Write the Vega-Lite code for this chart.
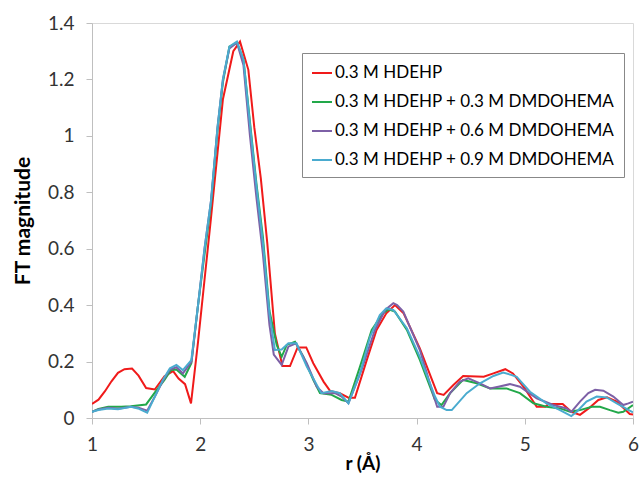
{
  "$schema": "https://vega.github.io/schema/vega-lite/v6.json",
  "width": 541,
  "height": 395,
  "autosize": "none",
  "padding": {"left": 92, "top": 23, "right": 6, "bottom": 63},
  "background": "white",
  "config": {
    "font": "Lato",
    "view": {"stroke": "#d9d9d9", "strokeWidth": 1},
    "axis": {
      "domainColor": "#bfbfbf",
      "tickColor": "#bfbfbf",
      "labelColor": "#333333",
      "titleColor": "#000000",
      "labelFont": "Lato",
      "titleFont": "Lato",
      "labelFontSize": 19,
      "titleFontSize": 21,
      "titleFontWeight": "bold",
      "grid": false
    }
  },
  "datasets": {
    "ft": [
      {"s": "0.3 M HDEHP", "r": 1.00, "v": 0.05},
      {"s": "0.3 M HDEHP", "r": 1.06, "v": 0.065},
      {"s": "0.3 M HDEHP", "r": 1.12, "v": 0.095},
      {"s": "0.3 M HDEHP", "r": 1.18, "v": 0.13},
      {"s": "0.3 M HDEHP", "r": 1.24, "v": 0.16},
      {"s": "0.3 M HDEHP", "r": 1.30, "v": 0.173},
      {"s": "0.3 M HDEHP", "r": 1.37, "v": 0.175},
      {"s": "0.3 M HDEHP", "r": 1.43, "v": 0.15},
      {"s": "0.3 M HDEHP", "r": 1.50, "v": 0.106},
      {"s": "0.3 M HDEHP", "r": 1.58, "v": 0.101},
      {"s": "0.3 M HDEHP", "r": 1.67, "v": 0.148},
      {"s": "0.3 M HDEHP", "r": 1.75, "v": 0.166},
      {"s": "0.3 M HDEHP", "r": 1.80, "v": 0.14},
      {"s": "0.3 M HDEHP", "r": 1.86, "v": 0.12},
      {"s": "0.3 M HDEHP", "r": 1.915, "v": 0.052},
      {"s": "0.3 M HDEHP", "r": 1.98, "v": 0.27},
      {"s": "0.3 M HDEHP", "r": 2.04, "v": 0.49},
      {"s": "0.3 M HDEHP", "r": 2.10, "v": 0.71},
      {"s": "0.3 M HDEHP", "r": 2.16, "v": 0.94},
      {"s": "0.3 M HDEHP", "r": 2.21, "v": 1.13},
      {"s": "0.3 M HDEHP", "r": 2.306, "v": 1.30},
      {"s": "0.3 M HDEHP", "r": 2.368, "v": 1.334},
      {"s": "0.3 M HDEHP", "r": 2.445, "v": 1.234},
      {"s": "0.3 M HDEHP", "r": 2.50, "v": 1.03},
      {"s": "0.3 M HDEHP", "r": 2.56, "v": 0.85},
      {"s": "0.3 M HDEHP", "r": 2.62, "v": 0.62},
      {"s": "0.3 M HDEHP", "r": 2.69, "v": 0.30},
      {"s": "0.3 M HDEHP", "r": 2.76, "v": 0.184},
      {"s": "0.3 M HDEHP", "r": 2.83, "v": 0.184},
      {"s": "0.3 M HDEHP", "r": 2.90, "v": 0.25},
      {"s": "0.3 M HDEHP", "r": 2.98, "v": 0.25},
      {"s": "0.3 M HDEHP", "r": 3.045, "v": 0.194},
      {"s": "0.3 M HDEHP", "r": 3.14, "v": 0.129},
      {"s": "0.3 M HDEHP", "r": 3.20, "v": 0.096},
      {"s": "0.3 M HDEHP", "r": 3.29, "v": 0.088},
      {"s": "0.3 M HDEHP", "r": 3.37, "v": 0.072},
      {"s": "0.3 M HDEHP", "r": 3.43, "v": 0.072},
      {"s": "0.3 M HDEHP", "r": 3.54, "v": 0.206},
      {"s": "0.3 M HDEHP", "r": 3.63, "v": 0.312},
      {"s": "0.3 M HDEHP", "r": 3.72, "v": 0.371},
      {"s": "0.3 M HDEHP", "r": 3.80, "v": 0.40},
      {"s": "0.3 M HDEHP", "r": 3.88, "v": 0.371},
      {"s": "0.3 M HDEHP", "r": 4.03, "v": 0.247},
      {"s": "0.3 M HDEHP", "r": 4.19, "v": 0.088},
      {"s": "0.3 M HDEHP", "r": 4.25, "v": 0.082},
      {"s": "0.3 M HDEHP", "r": 4.34, "v": 0.117},
      {"s": "0.3 M HDEHP", "r": 4.43, "v": 0.149},
      {"s": "0.3 M HDEHP", "r": 4.62, "v": 0.146},
      {"s": "0.3 M HDEHP", "r": 4.71, "v": 0.158},
      {"s": "0.3 M HDEHP", "r": 4.82, "v": 0.173},
      {"s": "0.3 M HDEHP", "r": 4.89, "v": 0.158},
      {"s": "0.3 M HDEHP", "r": 5.00, "v": 0.105},
      {"s": "0.3 M HDEHP", "r": 5.11, "v": 0.04},
      {"s": "0.3 M HDEHP", "r": 5.19, "v": 0.04},
      {"s": "0.3 M HDEHP", "r": 5.22, "v": 0.05},
      {"s": "0.3 M HDEHP", "r": 5.35, "v": 0.05},
      {"s": "0.3 M HDEHP", "r": 5.43, "v": 0.022},
      {"s": "0.3 M HDEHP", "r": 5.51, "v": 0.011},
      {"s": "0.3 M HDEHP", "r": 5.59, "v": 0.034},
      {"s": "0.3 M HDEHP", "r": 5.68, "v": 0.064},
      {"s": "0.3 M HDEHP", "r": 5.76, "v": 0.073},
      {"s": "0.3 M HDEHP", "r": 5.85, "v": 0.058},
      {"s": "0.3 M HDEHP", "r": 5.97, "v": 0.014},
      {"s": "0.3 M HDEHP", "r": 6.00, "v": 0.012},

      {"s": "0.3 M HDEHP + 0.3 M DMDOHEMA", "r": 1.00, "v": 0.022},
      {"s": "0.3 M HDEHP + 0.3 M DMDOHEMA", "r": 1.06, "v": 0.032},
      {"s": "0.3 M HDEHP + 0.3 M DMDOHEMA", "r": 1.15, "v": 0.04},
      {"s": "0.3 M HDEHP + 0.3 M DMDOHEMA", "r": 1.27, "v": 0.04},
      {"s": "0.3 M HDEHP + 0.3 M DMDOHEMA", "r": 1.36, "v": 0.042},
      {"s": "0.3 M HDEHP + 0.3 M DMDOHEMA", "r": 1.50, "v": 0.048},
      {"s": "0.3 M HDEHP + 0.3 M DMDOHEMA", "r": 1.58, "v": 0.09},
      {"s": "0.3 M HDEHP + 0.3 M DMDOHEMA", "r": 1.67, "v": 0.135},
      {"s": "0.3 M HDEHP + 0.3 M DMDOHEMA", "r": 1.73, "v": 0.17},
      {"s": "0.3 M HDEHP + 0.3 M DMDOHEMA", "r": 1.78, "v": 0.172},
      {"s": "0.3 M HDEHP + 0.3 M DMDOHEMA", "r": 1.857, "v": 0.146},
      {"s": "0.3 M HDEHP + 0.3 M DMDOHEMA", "r": 1.918, "v": 0.194},
      {"s": "0.3 M HDEHP + 0.3 M DMDOHEMA", "r": 1.98, "v": 0.40},
      {"s": "0.3 M HDEHP + 0.3 M DMDOHEMA", "r": 2.04, "v": 0.58},
      {"s": "0.3 M HDEHP + 0.3 M DMDOHEMA", "r": 2.10, "v": 0.76},
      {"s": "0.3 M HDEHP + 0.3 M DMDOHEMA", "r": 2.16, "v": 1.02},
      {"s": "0.3 M HDEHP + 0.3 M DMDOHEMA", "r": 2.21, "v": 1.19},
      {"s": "0.3 M HDEHP + 0.3 M DMDOHEMA", "r": 2.27, "v": 1.316},
      {"s": "0.3 M HDEHP + 0.3 M DMDOHEMA", "r": 2.34, "v": 1.33},
      {"s": "0.3 M HDEHP + 0.3 M DMDOHEMA", "r": 2.40, "v": 1.27},
      {"s": "0.3 M HDEHP + 0.3 M DMDOHEMA", "r": 2.46, "v": 1.05},
      {"s": "0.3 M HDEHP + 0.3 M DMDOHEMA", "r": 2.52, "v": 0.83},
      {"s": "0.3 M HDEHP + 0.3 M DMDOHEMA", "r": 2.58, "v": 0.64},
      {"s": "0.3 M HDEHP + 0.3 M DMDOHEMA", "r": 2.64, "v": 0.38},
      {"s": "0.3 M HDEHP + 0.3 M DMDOHEMA", "r": 2.707, "v": 0.259},
      {"s": "0.3 M HDEHP + 0.3 M DMDOHEMA", "r": 2.753, "v": 0.217},
      {"s": "0.3 M HDEHP + 0.3 M DMDOHEMA", "r": 2.80, "v": 0.259},
      {"s": "0.3 M HDEHP + 0.3 M DMDOHEMA", "r": 2.876, "v": 0.27},
      {"s": "0.3 M HDEHP + 0.3 M DMDOHEMA", "r": 2.953, "v": 0.217},
      {"s": "0.3 M HDEHP + 0.3 M DMDOHEMA", "r": 3.045, "v": 0.135},
      {"s": "0.3 M HDEHP + 0.3 M DMDOHEMA", "r": 3.107, "v": 0.088},
      {"s": "0.3 M HDEHP + 0.3 M DMDOHEMA", "r": 3.215, "v": 0.082},
      {"s": "0.3 M HDEHP + 0.3 M DMDOHEMA", "r": 3.307, "v": 0.064},
      {"s": "0.3 M HDEHP + 0.3 M DMDOHEMA", "r": 3.37, "v": 0.058},
      {"s": "0.3 M HDEHP + 0.3 M DMDOHEMA", "r": 3.477, "v": 0.182},
      {"s": "0.3 M HDEHP + 0.3 M DMDOHEMA", "r": 3.585, "v": 0.312},
      {"s": "0.3 M HDEHP + 0.3 M DMDOHEMA", "r": 3.69, "v": 0.371},
      {"s": "0.3 M HDEHP + 0.3 M DMDOHEMA", "r": 3.74, "v": 0.385},
      {"s": "0.3 M HDEHP + 0.3 M DMDOHEMA", "r": 3.80, "v": 0.377},
      {"s": "0.3 M HDEHP + 0.3 M DMDOHEMA", "r": 3.91, "v": 0.312},
      {"s": "0.3 M HDEHP + 0.3 M DMDOHEMA", "r": 4.03, "v": 0.206},
      {"s": "0.3 M HDEHP + 0.3 M DMDOHEMA", "r": 4.17, "v": 0.064},
      {"s": "0.3 M HDEHP + 0.3 M DMDOHEMA", "r": 4.23, "v": 0.046},
      {"s": "0.3 M HDEHP + 0.3 M DMDOHEMA", "r": 4.31, "v": 0.088},
      {"s": "0.3 M HDEHP + 0.3 M DMDOHEMA", "r": 4.43, "v": 0.135},
      {"s": "0.3 M HDEHP + 0.3 M DMDOHEMA", "r": 4.555, "v": 0.123},
      {"s": "0.3 M HDEHP + 0.3 M DMDOHEMA", "r": 4.68, "v": 0.105},
      {"s": "0.3 M HDEHP + 0.3 M DMDOHEMA", "r": 4.83, "v": 0.105},
      {"s": "0.3 M HDEHP + 0.3 M DMDOHEMA", "r": 4.955, "v": 0.088},
      {"s": "0.3 M HDEHP + 0.3 M DMDOHEMA", "r": 5.08, "v": 0.052},
      {"s": "0.3 M HDEHP + 0.3 M DMDOHEMA", "r": 5.20, "v": 0.04},
      {"s": "0.3 M HDEHP + 0.3 M DMDOHEMA", "r": 5.325, "v": 0.034},
      {"s": "0.3 M HDEHP + 0.3 M DMDOHEMA", "r": 5.418, "v": 0.022},
      {"s": "0.3 M HDEHP + 0.3 M DMDOHEMA", "r": 5.51, "v": 0.028},
      {"s": "0.3 M HDEHP + 0.3 M DMDOHEMA", "r": 5.62, "v": 0.04},
      {"s": "0.3 M HDEHP + 0.3 M DMDOHEMA", "r": 5.695, "v": 0.04},
      {"s": "0.3 M HDEHP + 0.3 M DMDOHEMA", "r": 5.787, "v": 0.028},
      {"s": "0.3 M HDEHP + 0.3 M DMDOHEMA", "r": 5.864, "v": 0.019},
      {"s": "0.3 M HDEHP + 0.3 M DMDOHEMA", "r": 5.91, "v": 0.022},
      {"s": "0.3 M HDEHP + 0.3 M DMDOHEMA", "r": 6.00, "v": 0.046},

      {"s": "0.3 M HDEHP + 0.6 M DMDOHEMA", "r": 1.00, "v": 0.022},
      {"s": "0.3 M HDEHP + 0.6 M DMDOHEMA", "r": 1.06, "v": 0.03},
      {"s": "0.3 M HDEHP + 0.6 M DMDOHEMA", "r": 1.15, "v": 0.036},
      {"s": "0.3 M HDEHP + 0.6 M DMDOHEMA", "r": 1.24, "v": 0.033},
      {"s": "0.3 M HDEHP + 0.6 M DMDOHEMA", "r": 1.36, "v": 0.04},
      {"s": "0.3 M HDEHP + 0.6 M DMDOHEMA", "r": 1.43, "v": 0.036},
      {"s": "0.3 M HDEHP + 0.6 M DMDOHEMA", "r": 1.51, "v": 0.026},
      {"s": "0.3 M HDEHP + 0.6 M DMDOHEMA", "r": 1.58, "v": 0.075},
      {"s": "0.3 M HDEHP + 0.6 M DMDOHEMA", "r": 1.66, "v": 0.135},
      {"s": "0.3 M HDEHP + 0.6 M DMDOHEMA", "r": 1.72, "v": 0.172},
      {"s": "0.3 M HDEHP + 0.6 M DMDOHEMA", "r": 1.78, "v": 0.18},
      {"s": "0.3 M HDEHP + 0.6 M DMDOHEMA", "r": 1.84, "v": 0.158},
      {"s": "0.3 M HDEHP + 0.6 M DMDOHEMA", "r": 1.92, "v": 0.2},
      {"s": "0.3 M HDEHP + 0.6 M DMDOHEMA", "r": 1.98, "v": 0.40},
      {"s": "0.3 M HDEHP + 0.6 M DMDOHEMA", "r": 2.04, "v": 0.60},
      {"s": "0.3 M HDEHP + 0.6 M DMDOHEMA", "r": 2.10, "v": 0.77},
      {"s": "0.3 M HDEHP + 0.6 M DMDOHEMA", "r": 2.16, "v": 1.03},
      {"s": "0.3 M HDEHP + 0.6 M DMDOHEMA", "r": 2.21, "v": 1.20},
      {"s": "0.3 M HDEHP + 0.6 M DMDOHEMA", "r": 2.27, "v": 1.31},
      {"s": "0.3 M HDEHP + 0.6 M DMDOHEMA", "r": 2.34, "v": 1.33},
      {"s": "0.3 M HDEHP + 0.6 M DMDOHEMA", "r": 2.40, "v": 1.25},
      {"s": "0.3 M HDEHP + 0.6 M DMDOHEMA", "r": 2.46, "v": 1.00},
      {"s": "0.3 M HDEHP + 0.6 M DMDOHEMA", "r": 2.52, "v": 0.78},
      {"s": "0.3 M HDEHP + 0.6 M DMDOHEMA", "r": 2.58, "v": 0.58},
      {"s": "0.3 M HDEHP + 0.6 M DMDOHEMA", "r": 2.64, "v": 0.33},
      {"s": "0.3 M HDEHP + 0.6 M DMDOHEMA", "r": 2.68, "v": 0.225},
      {"s": "0.3 M HDEHP + 0.6 M DMDOHEMA", "r": 2.753, "v": 0.188},
      {"s": "0.3 M HDEHP + 0.6 M DMDOHEMA", "r": 2.815, "v": 0.253},
      {"s": "0.3 M HDEHP + 0.6 M DMDOHEMA", "r": 2.885, "v": 0.265},
      {"s": "0.3 M HDEHP + 0.6 M DMDOHEMA", "r": 2.985, "v": 0.194},
      {"s": "0.3 M HDEHP + 0.6 M DMDOHEMA", "r": 3.077, "v": 0.111},
      {"s": "0.3 M HDEHP + 0.6 M DMDOHEMA", "r": 3.138, "v": 0.088},
      {"s": "0.3 M HDEHP + 0.6 M DMDOHEMA", "r": 3.246, "v": 0.088},
      {"s": "0.3 M HDEHP + 0.6 M DMDOHEMA", "r": 3.307, "v": 0.076},
      {"s": "0.3 M HDEHP + 0.6 M DMDOHEMA", "r": 3.37, "v": 0.052},
      {"s": "0.3 M HDEHP + 0.6 M DMDOHEMA", "r": 3.49, "v": 0.17},
      {"s": "0.3 M HDEHP + 0.6 M DMDOHEMA", "r": 3.615, "v": 0.312},
      {"s": "0.3 M HDEHP + 0.6 M DMDOHEMA", "r": 3.71, "v": 0.383},
      {"s": "0.3 M HDEHP + 0.6 M DMDOHEMA", "r": 3.785, "v": 0.407},
      {"s": "0.3 M HDEHP + 0.6 M DMDOHEMA", "r": 3.82, "v": 0.40},
      {"s": "0.3 M HDEHP + 0.6 M DMDOHEMA", "r": 3.877, "v": 0.377},
      {"s": "0.3 M HDEHP + 0.6 M DMDOHEMA", "r": 4.03, "v": 0.241},
      {"s": "0.3 M HDEHP + 0.6 M DMDOHEMA", "r": 4.17, "v": 0.064},
      {"s": "0.3 M HDEHP + 0.6 M DMDOHEMA", "r": 4.19, "v": 0.04},
      {"s": "0.3 M HDEHP + 0.6 M DMDOHEMA", "r": 4.247, "v": 0.04},
      {"s": "0.3 M HDEHP + 0.6 M DMDOHEMA", "r": 4.31, "v": 0.088},
      {"s": "0.3 M HDEHP + 0.6 M DMDOHEMA", "r": 4.40, "v": 0.129},
      {"s": "0.3 M HDEHP + 0.6 M DMDOHEMA", "r": 4.478, "v": 0.141},
      {"s": "0.3 M HDEHP + 0.6 M DMDOHEMA", "r": 4.586, "v": 0.123},
      {"s": "0.3 M HDEHP + 0.6 M DMDOHEMA", "r": 4.678, "v": 0.105},
      {"s": "0.3 M HDEHP + 0.6 M DMDOHEMA", "r": 4.755, "v": 0.111},
      {"s": "0.3 M HDEHP + 0.6 M DMDOHEMA", "r": 4.863, "v": 0.12},
      {"s": "0.3 M HDEHP + 0.6 M DMDOHEMA", "r": 4.955, "v": 0.111},
      {"s": "0.3 M HDEHP + 0.6 M DMDOHEMA", "r": 5.11, "v": 0.07},
      {"s": "0.3 M HDEHP + 0.6 M DMDOHEMA", "r": 5.263, "v": 0.046},
      {"s": "0.3 M HDEHP + 0.6 M DMDOHEMA", "r": 5.387, "v": 0.034},
      {"s": "0.3 M HDEHP + 0.6 M DMDOHEMA", "r": 5.43, "v": 0.022},
      {"s": "0.3 M HDEHP + 0.6 M DMDOHEMA", "r": 5.51, "v": 0.058},
      {"s": "0.3 M HDEHP + 0.6 M DMDOHEMA", "r": 5.587, "v": 0.088},
      {"s": "0.3 M HDEHP + 0.6 M DMDOHEMA", "r": 5.65, "v": 0.1},
      {"s": "0.3 M HDEHP + 0.6 M DMDOHEMA", "r": 5.726, "v": 0.097},
      {"s": "0.3 M HDEHP + 0.6 M DMDOHEMA", "r": 5.818, "v": 0.076},
      {"s": "0.3 M HDEHP + 0.6 M DMDOHEMA", "r": 5.91, "v": 0.046},
      {"s": "0.3 M HDEHP + 0.6 M DMDOHEMA", "r": 5.957, "v": 0.052},
      {"s": "0.3 M HDEHP + 0.6 M DMDOHEMA", "r": 6.00, "v": 0.058},

      {"s": "0.3 M HDEHP + 0.9 M DMDOHEMA", "r": 1.00, "v": 0.022},
      {"s": "0.3 M HDEHP + 0.9 M DMDOHEMA", "r": 1.06, "v": 0.028},
      {"s": "0.3 M HDEHP + 0.9 M DMDOHEMA", "r": 1.15, "v": 0.034},
      {"s": "0.3 M HDEHP + 0.9 M DMDOHEMA", "r": 1.24, "v": 0.031},
      {"s": "0.3 M HDEHP + 0.9 M DMDOHEMA", "r": 1.36, "v": 0.04},
      {"s": "0.3 M HDEHP + 0.9 M DMDOHEMA", "r": 1.425, "v": 0.034},
      {"s": "0.3 M HDEHP + 0.9 M DMDOHEMA", "r": 1.51, "v": 0.019},
      {"s": "0.3 M HDEHP + 0.9 M DMDOHEMA", "r": 1.58, "v": 0.075},
      {"s": "0.3 M HDEHP + 0.9 M DMDOHEMA", "r": 1.655, "v": 0.135},
      {"s": "0.3 M HDEHP + 0.9 M DMDOHEMA", "r": 1.72, "v": 0.176},
      {"s": "0.3 M HDEHP + 0.9 M DMDOHEMA", "r": 1.78, "v": 0.188},
      {"s": "0.3 M HDEHP + 0.9 M DMDOHEMA", "r": 1.84, "v": 0.17},
      {"s": "0.3 M HDEHP + 0.9 M DMDOHEMA", "r": 1.918, "v": 0.205},
      {"s": "0.3 M HDEHP + 0.9 M DMDOHEMA", "r": 1.98, "v": 0.40},
      {"s": "0.3 M HDEHP + 0.9 M DMDOHEMA", "r": 2.04, "v": 0.60},
      {"s": "0.3 M HDEHP + 0.9 M DMDOHEMA", "r": 2.10, "v": 0.77},
      {"s": "0.3 M HDEHP + 0.9 M DMDOHEMA", "r": 2.16, "v": 1.03},
      {"s": "0.3 M HDEHP + 0.9 M DMDOHEMA", "r": 2.21, "v": 1.20},
      {"s": "0.3 M HDEHP + 0.9 M DMDOHEMA", "r": 2.27, "v": 1.316},
      {"s": "0.3 M HDEHP + 0.9 M DMDOHEMA", "r": 2.34, "v": 1.334},
      {"s": "0.3 M HDEHP + 0.9 M DMDOHEMA", "r": 2.40, "v": 1.27},
      {"s": "0.3 M HDEHP + 0.9 M DMDOHEMA", "r": 2.46, "v": 1.04},
      {"s": "0.3 M HDEHP + 0.9 M DMDOHEMA", "r": 2.52, "v": 0.82},
      {"s": "0.3 M HDEHP + 0.9 M DMDOHEMA", "r": 2.58, "v": 0.62},
      {"s": "0.3 M HDEHP + 0.9 M DMDOHEMA", "r": 2.64, "v": 0.37},
      {"s": "0.3 M HDEHP + 0.9 M DMDOHEMA", "r": 2.69, "v": 0.241},
      {"s": "0.3 M HDEHP + 0.9 M DMDOHEMA", "r": 2.753, "v": 0.243},
      {"s": "0.3 M HDEHP + 0.9 M DMDOHEMA", "r": 2.815, "v": 0.265},
      {"s": "0.3 M HDEHP + 0.9 M DMDOHEMA", "r": 2.89, "v": 0.265},
      {"s": "0.3 M HDEHP + 0.9 M DMDOHEMA", "r": 2.985, "v": 0.182},
      {"s": "0.3 M HDEHP + 0.9 M DMDOHEMA", "r": 3.12, "v": 0.088},
      {"s": "0.3 M HDEHP + 0.9 M DMDOHEMA", "r": 3.215, "v": 0.096},
      {"s": "0.3 M HDEHP + 0.9 M DMDOHEMA", "r": 3.29, "v": 0.088},
      {"s": "0.3 M HDEHP + 0.9 M DMDOHEMA", "r": 3.37, "v": 0.052},
      {"s": "0.3 M HDEHP + 0.9 M DMDOHEMA", "r": 3.477, "v": 0.158},
      {"s": "0.3 M HDEHP + 0.9 M DMDOHEMA", "r": 3.57, "v": 0.288},
      {"s": "0.3 M HDEHP + 0.9 M DMDOHEMA", "r": 3.66, "v": 0.365},
      {"s": "0.3 M HDEHP + 0.9 M DMDOHEMA", "r": 3.72, "v": 0.389},
      {"s": "0.3 M HDEHP + 0.9 M DMDOHEMA", "r": 3.785, "v": 0.383},
      {"s": "0.3 M HDEHP + 0.9 M DMDOHEMA", "r": 3.91, "v": 0.318},
      {"s": "0.3 M HDEHP + 0.9 M DMDOHEMA", "r": 4.03, "v": 0.217},
      {"s": "0.3 M HDEHP + 0.9 M DMDOHEMA", "r": 4.17, "v": 0.076},
      {"s": "0.3 M HDEHP + 0.9 M DMDOHEMA", "r": 4.216, "v": 0.04},
      {"s": "0.3 M HDEHP + 0.9 M DMDOHEMA", "r": 4.278, "v": 0.028},
      {"s": "0.3 M HDEHP + 0.9 M DMDOHEMA", "r": 4.325, "v": 0.028},
      {"s": "0.3 M HDEHP + 0.9 M DMDOHEMA", "r": 4.463, "v": 0.088},
      {"s": "0.3 M HDEHP + 0.9 M DMDOHEMA", "r": 4.586, "v": 0.123},
      {"s": "0.3 M HDEHP + 0.9 M DMDOHEMA", "r": 4.71, "v": 0.149},
      {"s": "0.3 M HDEHP + 0.9 M DMDOHEMA", "r": 4.80, "v": 0.161},
      {"s": "0.3 M HDEHP + 0.9 M DMDOHEMA", "r": 4.88, "v": 0.152},
      {"s": "0.3 M HDEHP + 0.9 M DMDOHEMA", "r": 4.925, "v": 0.146},
      {"s": "0.3 M HDEHP + 0.9 M DMDOHEMA", "r": 5.048, "v": 0.093},
      {"s": "0.3 M HDEHP + 0.9 M DMDOHEMA", "r": 5.20, "v": 0.052},
      {"s": "0.3 M HDEHP + 0.9 M DMDOHEMA", "r": 5.325, "v": 0.028},
      {"s": "0.3 M HDEHP + 0.9 M DMDOHEMA", "r": 5.43, "v": 0.007},
      {"s": "0.3 M HDEHP + 0.9 M DMDOHEMA", "r": 5.48, "v": 0.022},
      {"s": "0.3 M HDEHP + 0.9 M DMDOHEMA", "r": 5.57, "v": 0.058},
      {"s": "0.3 M HDEHP + 0.9 M DMDOHEMA", "r": 5.665, "v": 0.076},
      {"s": "0.3 M HDEHP + 0.9 M DMDOHEMA", "r": 5.757, "v": 0.073},
      {"s": "0.3 M HDEHP + 0.9 M DMDOHEMA", "r": 5.85, "v": 0.052},
      {"s": "0.3 M HDEHP + 0.9 M DMDOHEMA", "r": 5.97, "v": 0.026},
      {"s": "0.3 M HDEHP + 0.9 M DMDOHEMA", "r": 6.00, "v": 0.02}
    ]
  },
  "data": {"name": "ft"},
  "mark": {"type": "line", "strokeWidth": 2, "strokeJoin": "miter", "clip": true},
  "encoding": {
    "x": {
      "field": "r",
      "type": "quantitative",
      "scale": {"domain": [1, 6], "nice": false, "zero": false},
      "axis": {
        "title": "r (Å)",
        "titleFontSize": 19,
        "values": [1, 2, 3, 4, 5, 6],
        "format": "d",
        "tickSize": 6,
        "labelPadding": 11,
        "titlePadding": 0,
        "labelFlush": false
      }
    },
    "y": {
      "field": "v",
      "type": "quantitative",
      "scale": {"domain": [0, 1.4], "nice": false},
      "axis": {
        "title": "FT magnitude",
        "values": [0, 0.2, 0.4, 0.6, 0.8, 1, 1.2, 1.4],
        "format": ".1~f",
        "tickSize": 6,
        "labelPadding": 12,
        "titlePadding": 14
      }
    },
    "color": {
      "field": "s",
      "type": "nominal",
      "sort": ["0.3 M HDEHP", "0.3 M HDEHP + 0.3 M DMDOHEMA", "0.3 M HDEHP + 0.6 M DMDOHEMA", "0.3 M HDEHP + 0.9 M DMDOHEMA"],
      "scale": {
        "domain": ["0.3 M HDEHP", "0.3 M HDEHP + 0.3 M DMDOHEMA", "0.3 M HDEHP + 0.6 M DMDOHEMA", "0.3 M HDEHP + 0.9 M DMDOHEMA"],
        "range": ["#f01a1a", "#22a84a", "#7d60a6", "#4aabcf"]
      },
      "legend": {
        "title": null,
        "orient": "none",
        "legendX": 210,
        "legendY": 30,
        "symbolType": "stroke",
        "symbolSize": 400,
        "symbolStrokeWidth": 2,
        "labelFont": "Lato",
        "labelFontSize": 17,
        "labelColor": "#000000",
        "labelLimit": 400,
        "labelOffset": 2,
        "rowPadding": 10,
        "padding": 9,
        "strokeColor": "#888888",
        "fillColor": "white"
      }
    },
    "order": {"field": "r", "type": "quantitative"}
  }
}
